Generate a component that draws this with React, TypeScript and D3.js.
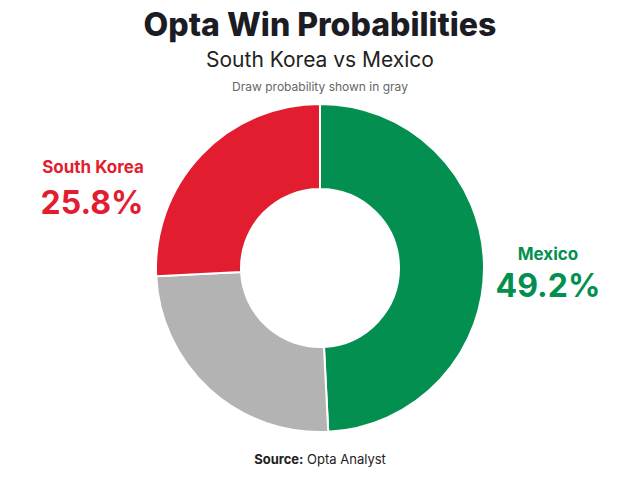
import React from 'react';
import * as d3 from 'd3';

const teams = ['Mexico', 'Draw', 'South Korea'];
const probabilities = [49.2, 25.0, 25.8];
const colors = ['#038f4f', '#b3b3b3', '#e31d30'];

const width = 640;
const height = 480;
const font = 'Inter, "Noto Sans", sans-serif';

interface Slice {
  team: string;
  value: number;
}

const App: React.FC = () => {
  const data: Slice[] = teams.map((t, i) => ({ team: t, value: probabilities[i] }));
  const cx = 320;
  const cy = 268;
  const outer = 164;
  const inner = 79;

  const pie = d3.pie<Slice>().value((d) => d.value).sort(null);
  const arc = d3.arc<d3.PieArcDatum<Slice>>().innerRadius(inner).outerRadius(outer);
  const color = d3.scaleOrdinal<string, string>().domain(teams).range(colors);
  const arcs = pie(data);

  const korea = data[2];
  const mexico = data[0];

  return (
    <svg width={width} height={height} style={{ position: 'absolute', left: 0, top: 0, background: '#fff' }}>
      <text x={320} y={36} textAnchor="middle" fontFamily={font} fontWeight={800} fontSize={32} fill="#1c1c24">
        Opta Win Probabilities
      </text>
      <text x={320} y={67} textAnchor="middle" fontFamily={font} fontSize={21} fill="#222">
        South Korea vs Mexico
      </text>
      <text x={320} y={91} textAnchor="middle" fontFamily={font} fontSize={12} fill="#666">
        Draw probability shown in gray
      </text>
      <g transform={`translate(${cx},${cy})`}>
        {arcs.map((d) => (
          <path key={d.data.team} d={arc(d) as string} fill={color(d.data.team)} stroke="#fff" strokeWidth={2} />
        ))}
      </g>
      <text x={93} y={173} textAnchor="middle" fontFamily={font} fontWeight={700} fontSize={17} fill={color(korea.team)}>
        {korea.team}
      </text>
      <text x={92} y={214} textAnchor="middle" fontFamily={font} fontWeight={700} fontSize={32} fill={color(korea.team)}>
        {korea.value.toFixed(1)}%
      </text>
      <text x={548} y={260} textAnchor="middle" fontFamily={font} fontWeight={700} fontSize={17} fill={color(mexico.team)}>
        {mexico.team}
      </text>
      <text x={548} y={297} textAnchor="middle" fontFamily={font} fontWeight={700} fontSize={32} fill={color(mexico.team)}>
        {mexico.value.toFixed(1)}%
      </text>
      <text x={320} y={464} textAnchor="middle" fontFamily={font} fontSize={13} fill="#222">
        <tspan fontWeight={700}>Source:</tspan> Opta Analyst
      </text>
    </svg>
  );
};

export default App;
